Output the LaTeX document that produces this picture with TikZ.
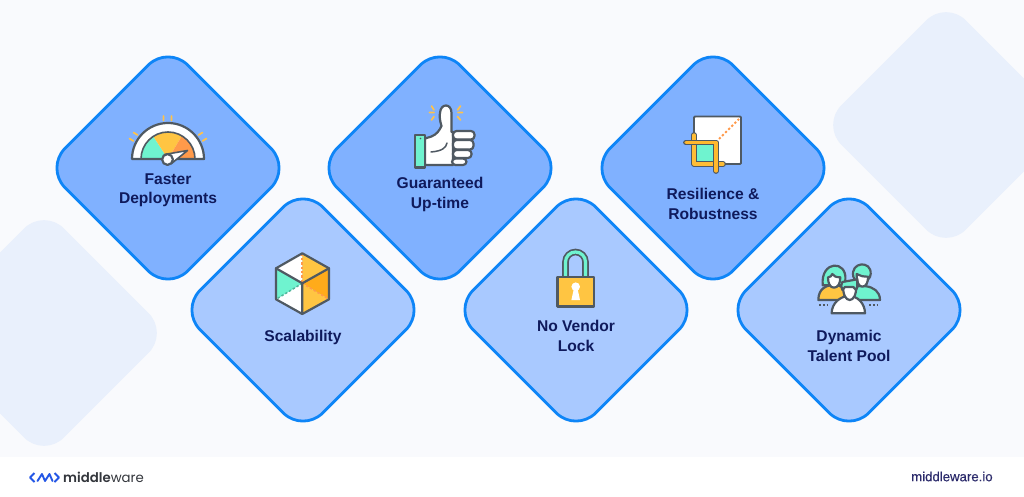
\documentclass[tikz,border=0pt]{standalone}
\usepackage{fontspec}
\setmainfont{Liberation Sans}
\newfontfamily\labfont{Liberation Sans Bold}
\newfontfamily\urlfont[FakeBold=0.25]{Liberation Sans}
\newfontfamily\logofont[BoldFont={Poppins SemiBold}]{Poppins}
\definecolor{pagebg}{HTML}{F9FAFD}
\definecolor{deco}{HTML}{E9F0FC}
\definecolor{edgeblue}{HTML}{0E85F7}
\definecolor{topfill}{HTML}{80B1FF}
\definecolor{lowfill}{HTML}{A9C9FF}
\definecolor{ink}{HTML}{0F1A5C}
\definecolor{linegray}{HTML}{4F5962}
\definecolor{teal}{HTML}{6FF3CF}
\definecolor{sun}{HTML}{FFC542}
\definecolor{amber}{HTML}{FFAB1A}
\definecolor{coral}{HTML}{FF9A4A}
\definecolor{raycol}{HTML}{FFC24A}
\definecolor{logoblue}{HTML}{2457E6}
\definecolor{logogray}{HTML}{33363C}
\definecolor{urlcol}{HTML}{2B2A6B}
\tikzset{
  decobox/.style={rectangle,fill=deco,minimum size=176pt,rounded corners=28pt,rotate=45,inner sep=0pt,outer sep=0pt},
  topbox/.style={rectangle,draw=edgeblue,line width=2.8pt,fill=topfill,minimum size=173.5pt,rounded corners=28pt,rotate=45,inner sep=0pt},
  lowbox/.style={topbox,fill=lowfill},
  lab/.style={font=\labfont\fontsize{15.6}{19.5}\selectfont,text=ink,align=center,inner sep=0pt},
  icon/.style={draw=linegray,line width=2.2pt,line join=round,line cap=round},
  ray/.style={draw=raycol,line width=1.7pt,line cap=round},
  dots/.style={draw=linegray,line width=1.6pt,dash pattern=on 1.8pt off 2pt},
}
\begin{document}
\begin{tikzpicture}[x=1pt,y=-1pt]
\useasboundingbox (0,0) rectangle (1024,497);
\fill[white] (0,0) rectangle (1024,497);
\fill[pagebg] (0,0) rectangle (1024,457);
% background shapes
\node[decobox] (decoR) at (946,125) {};
\node[decobox] (decoL) at (44,333) {};
\fill[white] (0,457) rectangle (1024,497);
% diamonds
\node[topbox] (d1) at (168,168) {};
\node[topbox] (d2) at (440,168) {};
\node[topbox] (d3) at (713,168) {};
\node[lowbox] (d4) at (303,310) {};
\node[lowbox] (d5) at (576,310) {};
\node[lowbox] (d6) at (849,310) {};
% labels
\node[lab] (t1) at (168,190.5) {Faster\\Deployments};
\node[lab] (t2) at (440,194.5) {Guaranteed\\Up-time};
\node[lab] (t3) at (713,204) {Resilience \&\\Robustness};
\node[lab] (t4) at (303,337) {Scalability};
\node[lab] (t5) at (576,336) {No Vendor\\Lock};
\node[lab] (t6) at (849,346) {Dynamic\\Talent Pool};
% gauge
\fill[white] (132,159) arc[start angle=180,end angle=0,radius=36pt] -- cycle;
\fill[teal] (168,159) -- (141,159) arc[start angle=180,end angle=123,radius=27pt] -- cycle;
\fill[sun] (168,159) -- ++(-14.7,-22.6) arc[start angle=123,end angle=59,radius=27pt] -- cycle;
\fill[coral] (168,159) -- ++(13.9,-23.1) arc[start angle=59,end angle=0,radius=27pt] -- cycle;
\draw[icon] (132,159) arc[start angle=180,end angle=0,radius=36pt] -- (132,159);
\draw[icon,line width=1.6pt] (141,159) arc[start angle=180,end angle=0,radius=27pt];
\draw[icon,fill=white,line width=1.6pt] (164.5,154.5) -- (187.5,150.5) -- (171.5,163.5) -- cycle;
\draw[icon,fill=white] (167.5,159.5) circle[radius=5.4pt];
\draw[ray] (163.5,116) -- (163.5,120.5) (171.5,116) -- (171.5,120.5)
  (133.5,132.5) -- (137.5,135) (129.5,138.5) -- (133.5,141)
  (198.5,135) -- (202.5,132.5) (202.5,141) -- (206.5,138.5);
% thumb
\draw[icon,fill=white] (425,138.5) -- (431.5,136.5) .. controls (437,134) and (439,131) .. (441.5,126)
  .. controls (439.5,120) and (439.5,115) .. (440,113)
  .. controls (440.5,103) and (451.5,103) .. (451.5,113)
  -- (451.5,132) -- (453,132) -- (453,165) -- (425,165) -- cycle;
\draw[icon,fill=white,rounded corners=3.5pt] (453,131) rectangle (474.5,139.5);
\draw[icon,fill=white,rounded corners=3.5pt] (453,140) rectangle (473.5,149.5);
\draw[icon,fill=white,rounded corners=3.5pt] (453,150) rectangle (471.5,158);
\draw[icon,fill=white,rounded corners=3.5pt] (452,158.5) rectangle (466.5,165);
\draw[icon,line width=1.5pt] (431,152) .. controls (442,151) and (446,148) .. (447,143);
\draw[icon,fill=teal] (415,135) rectangle (425,167.5);
\fill[linegray] (420.5,138.5) circle[radius=0.9pt];
\draw[ray] (431.5,106) -- (434,110) (429.5,112.5) -- (434,112.5) (431.5,120) -- (434,116.5)
  (460.5,106) -- (457.5,110) (458,112.5) -- (462.5,112.5) (460.5,120) -- (457.5,116.5);
% crop
\draw[icon,fill=white,line width=1.9pt,rounded corners=1pt] (694,116.5) rectangle (741,164);
\draw[draw=coral,line width=2pt,dash pattern=on 2.2pt off 2.2pt] (719,139) -- (739,119);
\fill[teal] (695,145) rectangle (713,162);
\draw[linegray,line width=5.8pt,line cap=round,line join=round] (694,135) -- (694,164) -- (723,164);
\draw[sun!70!amber,line width=3.2pt,line cap=round,line join=round] (694,135) -- (694,164) -- (723,164);
\draw[linegray,line width=5.8pt,line cap=round,line join=round] (686,142.5) -- (716,142.5) -- (716,171);
\draw[sun!50!amber,line width=3.2pt,line cap=round,line join=round] (686,142.5) -- (716,142.5) -- (716,171);
% cube
\coordinate (cC) at (302.3,283.3);
\coordinate (cT) at (302.3,253.3);
\coordinate (cUR) at (329,268.3);
\coordinate (cLR) at (329,299.3);
\coordinate (cB) at (302.3,314);
\coordinate (cLL) at (276,299.3);
\coordinate (cUL) at (276,268.3);
\fill[white] (cUL) -- (cT) -- (cC) -- cycle;
\fill[sun] (cT) -- (cUR) -- (cC) -- cycle;
\fill[amber] (cUR) -- (cLR) -- (cC) -- cycle;
\fill[sun] (cLR) -- (cB) -- (cC) -- cycle;
\fill[white] (cB) -- (cLL) -- (cC) -- cycle;
\fill[teal] (cLL) -- (cUL) -- (cC) -- cycle;
\draw[coral,line width=2pt,dash pattern=on 2.4pt off 2pt] (cT) -- (cC);
\draw[coral,line width=1.5pt,dash pattern=on 2.4pt off 2pt] (cC) -- (cLR);
\draw[teal!75!black,line width=1.5pt,dash pattern=on 2.4pt off 2pt] (cC) -- (cLL);
\draw[icon] (cUL) -- (cC) -- (cUR) (cC) -- (cB);
\draw[icon] (cT) -- (cUR) -- (cLR) -- (cB) -- (cLL) -- (cUL) -- cycle;
% lock
\draw[linegray,line width=6.6pt] (565.5,277) -- (565.5,262) arc[start angle=180,end angle=0,radius=10pt] -- (585.5,277);
\draw[teal,line width=3.2pt] (565.5,277) -- (565.5,262) arc[start angle=180,end angle=0,radius=10pt] -- (585.5,277);
\draw[icon,fill=sun] (557.5,277) rectangle (594,306.5);
\fill[white] (575.7,286.7) circle[radius=4.3pt];
\fill[white] (574,288) -- (577.4,288) -- (580,300) -- (571.4,300) -- cycle;
% people
\begin{scope}[shift={(800,250)},x=0.3333pt,y=-0.3333pt]
% right person
\draw[icon,fill=teal] (135,125) .. controls (160,100) and (240,98) .. (240,150) -- (150,150) -- cycle;
\draw[icon,fill=teal] (160,80) .. controls (150,35) and (215,30) .. (212,72) .. controls (212,85) and (200,92) .. (196,92) -- (172,92) .. controls (166,92) and (162,88) .. (160,80) -- cycle;
\draw[icon,fill=white] (170,72) .. controls (170,97) and (176,110) .. (187,110) .. controls (198,110) and (205,97) .. (204,80) .. controls (190,80) and (180,78) .. (170,72) -- cycle;
% left person
\draw[icon,fill=sun] (55,150) .. controls (55,115) and (80,105) .. (102,105) .. controls (120,105) and (132,112) .. (140,128) -- (125,150) -- cycle;
\draw[icon,fill=teal] (68,105) .. controls (62,30) and (142,30) .. (136,90) -- (136,106) -- (68,106) -- cycle;
\draw[icon,fill=white] (84,82) .. controls (84,100) and (90,113) .. (102,113) .. controls (114,113) and (121,100) .. (121,82) .. controls (108,82) and (100,78) .. (97,72) .. controls (95,78) and (90,82) .. (84,82) -- cycle;
% front person
\draw[icon,fill=white] (95,190) .. controls (95,160) and (120,138) .. (148,138) .. controls (172,138) and (195,160) .. (195,190) -- cycle;
\draw[icon,fill=white] (129,108) .. controls (129,135) and (138,150) .. (149,150) .. controls (160,150) and (169,135) .. (169,108) -- cycle;
\draw[icon,fill=teal] (127,120) .. controls (122,112) and (123,102) .. (127,96) -- (172,88) -- (172,100) .. controls (172,110) and (172,116) .. (168,120) -- (160,111) -- (135,111) -- cycle;
\draw[dots] (57,165) -- (87,165);
\draw[dots] (207,165) -- (238,165);
\end{scope}
% logo
\draw[logoblue,line width=1.9pt,line join=round] (34.5,473) -- (30,477.5) -- (34.5,482);
\draw[logoblue,line width=1.9pt,line join=round,line cap=round] (37.5,481) -- (42,474) -- (45,481) -- (49.5,474) -- (52.5,481);
\draw[logoblue,line width=1.9pt,line join=round] (54.5,473) -- (59,477.5) -- (54.5,482);
\node[inner sep=0pt,anchor=west,font=\logofont\fontsize{13.3}{16}\selectfont,text=logogray] (logo) at (63,477) {\textbf{middle}ware};
\node[inner sep=0pt,anchor=west,font=\urlfont\fontsize{13.2}{16}\selectfont,text=urlcol] (url) at (911,476.5) {middleware.io};
\end{tikzpicture}
\end{document}
